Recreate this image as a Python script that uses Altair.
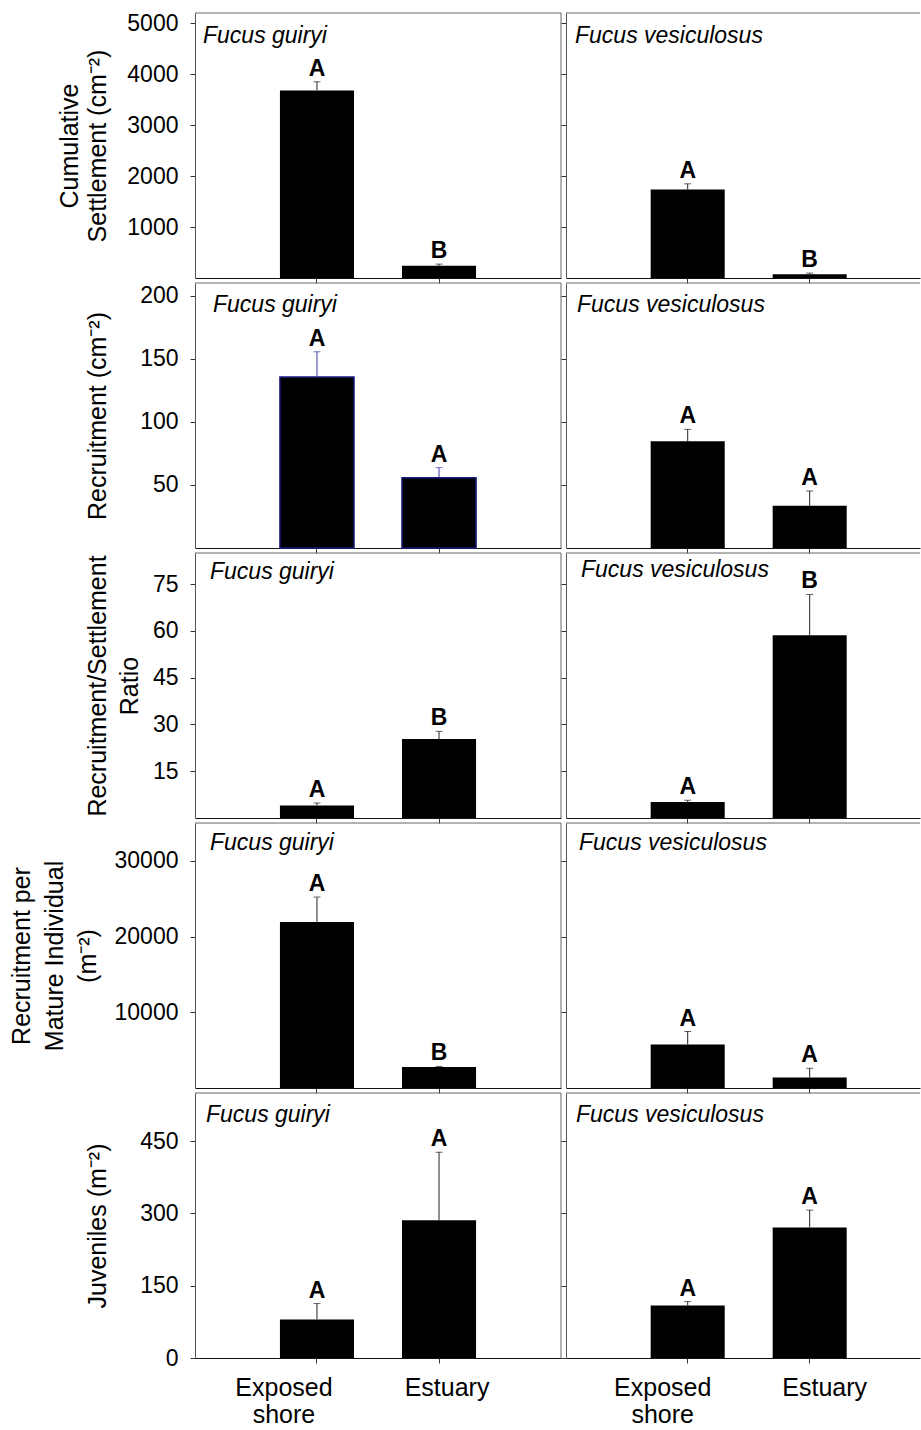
import altair as alt
import pandas as pd

FONT = "Liberation Sans"

sites = ["Exposed shore", "Estuary"]
species = ["Fucus guiryi", "Fucus vesiculosus"]

# Means, standard errors and significance letters,
# ordered [F. guiryi, F. vesiculosus] x [Exposed shore, Estuary]
settlement_mean = [[3680, 238], [1738, 76]]
settlement_se = [[170, 34], [110, 20]]
settlement_letters = [["A", "B"], ["A", "B"]]

recruitment_mean = [[135.5, 55.7], [84.5, 33.4]]
recruitment_se = [[20.0, 8.0], [9.5, 11.8]]
recruitment_letters = [["A", "A"], ["A", "A"]]

ratio_mean = [[4.0, 25.3], [5.1, 58.6]]
ratio_se = [[0.8, 2.5], [0.6, 13.1]]
ratio_letters = [["A", "B"], ["A", "B"]]

per_mature_mean = [[21930, 2760], [5750, 1400]]
per_mature_se = [[3290, 90], [1710, 1200]]
per_mature_letters = [["A", "B"], ["A", "A"]]

juveniles_mean = [[80, 286], [109, 271]]
juveniles_se = [[33, 141], [8, 36]]
juveniles_letters = [["A", "A"], ["A", "A"]]

means = [settlement_mean, recruitment_mean, ratio_mean, per_mature_mean, juveniles_mean]
ses = [settlement_se, recruitment_se, ratio_se, per_mature_se, juveniles_se]
letters = [settlement_letters, recruitment_letters, ratio_letters,
           per_mature_letters, juveniles_letters]

y_titles = [
    ["Cumulative", "Settlement (cm⁻²)"],
    "Recruitment (cm⁻²)",
    ["Recruitment/Settlement", "Ratio"],
    ["Recruitment per", "Mature Individual", "(m⁻²)"],
    "Juveniles (m⁻²)",
]
y_max = [5200, 210, 85, 35000, 550]
y_ticks = [
    [1000, 2000, 3000, 4000, 5000],
    [50, 100, 150, 200],
    [15, 30, 45, 60, 75],
    [10000, 20000, 30000],
    [0, 150, 300, 450],
]

# Layout settings (title_x anchors the first title line)
PANEL_W = [366, 354]
PANEL_H = 265
title_x = [-113, -85, -85, -161, -85]
title_lh = [28, 28, 32, 33, 28]
name_pos = [[(8, 30), (9, 30)], [(18, 29), (11, 29)], [(15, 26), (15, 24)],
            [(15, 27), (13, 27)], [(11, 29), (10, 29)]]
x_scale_opts = [dict(paddingInner=0.393, paddingOuter=0.696, align=0.5),
                dict(paddingInner=0.393, paddingOuter=0.6475, align=0.536)]
x_label_shift = [(-33, 8), (-25, 15)]


def panel(r, c):
    w = PANEL_W[c]
    df = pd.DataFrame({
        "site": sites,
        "mean": means[r][c],
        "upper": [m + s for m, s in zip(means[r][c], ses[r][c])],
        "letter": letters[r][c],
    })
    sh_exp, sh_est = x_label_shift[c]
    x_axis = alt.Axis(
        title=None, labels=(r == 4), labelAngle=0, labelFontSize=25,
        labelPadding=12, labelLineHeight=27, labelFont=FONT, labelColor="black",
        labelExpr="split(datum.label, ' ')",
        labelOffset=alt.condition("datum.value == 'Estuary'",
                                  alt.value(sh_est), alt.value(sh_exp)),
        tickSize=5, tickColor="#333", domainColor="#111",
    )
    x = alt.X("site:N", sort=sites,
              scale=alt.Scale(domain=sites, **x_scale_opts[c]), axis=x_axis)

    y_axis_kwargs = dict(values=y_ticks[r], format="d", grid=False, tickSize=5,
                         tickColor="#333", domainColor="#555", labels=(c == 0),
                         labelFontSize=23, labelPadding=12, labelColor="black",
                         labelFont=FONT)
    if c == 0:
        y_axis_kwargs.update(title=y_titles[r], titleX=title_x[r], titleY=PANEL_H / 2,
                             titleFontSize=25, titleFontWeight="normal",
                             titleLineHeight=title_lh[r], titleColor="black",
                             titleFont=FONT)
    else:
        y_axis_kwargs.update(title=None)
    y_scale = alt.Scale(domain=[0, y_max[r]], nice=False)
    y_mean = alt.Y("mean:Q", scale=y_scale, axis=alt.Axis(**y_axis_kwargs))
    y_upper = alt.Y("upper:Q", scale=y_scale, axis=alt.Axis(**y_axis_kwargs))

    bar_kwargs = dict(color="black")
    err_color = "#222"
    if r == 1 and c == 0:
        bar_kwargs.update(stroke="#1a1a80", strokeWidth=1.5)
        err_color = "#3a3aa8"

    base = alt.Chart(df)
    bars = base.mark_bar(**bar_kwargs).encode(x=x, y=y_mean)
    stems = base.mark_rule(color=err_color, strokeWidth=1).encode(
        x=x, y=y_mean, y2="upper:Q")
    caps = base.mark_tick(color=err_color, size=7, thickness=1).encode(x=x, y=y_upper)
    marks = base.mark_text(font=FONT, fontSize=23, fontWeight="bold",
                           baseline="alphabetic", dy=-6, color="black").encode(
        x=x, y=y_upper, text="letter:N")

    dx, dy = name_pos[r][c]
    name = alt.Chart(pd.DataFrame({"name": [species[c]]})).mark_text(
        font=FONT, fontSize=23, fontStyle="italic", align="left",
        baseline="alphabetic", color="black").encode(
        x=alt.value(dx), y=alt.value(dy), text="name:N")

    frame_df = pd.DataFrame({"k": [0]})
    top = alt.Chart(frame_df).mark_rule(color="#666", strokeWidth=1).encode(
        x=alt.value(0), x2=alt.value(w), y=alt.value(0))
    layers = [bars, stems, caps, marks, name, top]
    if c == 0:
        right = alt.Chart(frame_df).mark_rule(color="#666", strokeWidth=1).encode(
            x=alt.value(w), y=alt.value(0), y2=alt.value(PANEL_H))
        layers.append(right)
    return alt.layer(*layers).properties(width=w, height=PANEL_H)


panels = [panel(r, c) for r in range(5) for c in range(2)]

chart = alt.concat(*panels, columns=2, spacing=5, bounds="flush").configure(
    padding={"left": 9, "top": 12, "right": 0, "bottom": 0}, font=FONT
).configure_view(stroke="transparent", strokeWidth=0, strokeOpacity=0)

chart.save("out.html", embed_options={"renderer": "svg", "actions": False})
